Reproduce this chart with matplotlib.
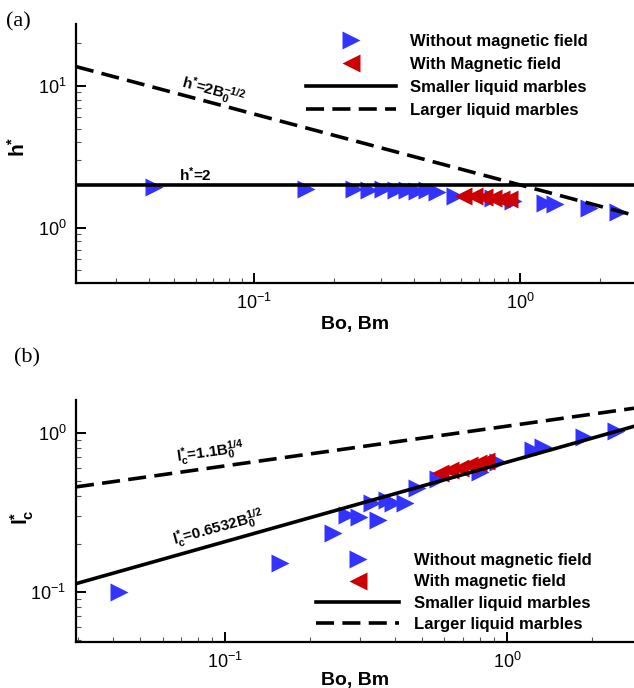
import numpy as np
import matplotlib
matplotlib.use('Agg')
import matplotlib.pyplot as plt
from matplotlib.lines import Line2D
from matplotlib.ticker import NullFormatter, LogLocator

plt.rcParams['font.family'] = ['Liberation Sans', 'DejaVu Sans']
plt.rcParams['mathtext.fontset'] = 'custom'
plt.rcParams['mathtext.rm'] = 'Liberation Sans:bold'
plt.rcParams['mathtext.it'] = 'Liberation Sans:bold'
plt.rcParams['mathtext.bf'] = 'Liberation Sans:bold'

# ---------------- data (a) ----------------
bo_a_without = [0.042, 0.156, 0.237, 0.27, 0.305, 0.34, 0.376, 0.41, 0.447, 0.488,
                0.567, 0.79, 0.94, 1.24, 1.35, 1.81, 2.33]
h_a_without = [1.95, 1.87, 1.88, 1.85, 1.86, 1.83, 1.84, 1.82, 1.83, 1.79,
               1.67, 1.61, 1.54, 1.49, 1.46, 1.37, 1.29]
bm_a_with = [0.61, 0.67, 0.73, 0.79, 0.85, 0.91]
h_a_with = [1.68, 1.66, 1.64, 1.62, 1.60, 1.58]

# ---------------- data (b) ----------------
bo_b_without = [0.042, 0.156, 0.242, 0.270, 0.299, 0.331, 0.349, 0.375, 0.394, 0.435,
                0.480, 0.569, 0.802, 0.929, 1.24, 1.34, 1.87, 2.43]
lc_b_without = [0.100, 0.152, 0.235, 0.304, 0.296, 0.364, 0.283, 0.377, 0.364, 0.361,
                0.449, 0.512, 0.566, 0.654, 0.778, 0.817, 0.936, 1.03]
bm_b_with = [0.58, 0.63, 0.68, 0.73, 0.79, 0.84]
lc_b_with = [0.556, 0.58, 0.60, 0.625, 0.645, 0.667]

# model curve coefficients
h_small = 2.0
h_large_coef, h_large_exp = 2.0, -0.5
l_small_coef, l_small_exp = 0.6532, 0.5
l_large_coef, l_large_exp = 1.1, 0.25

BLUE = '#3333ff'
RED = '#cc0000'

W, H = 634, 688
fig = plt.figure(figsize=(W / 100, H / 100), dpi=100)


def px_axes(left, top, right, bottom):
    return fig.add_axes([left / W, 1 - bottom / H, (right - left) / W, (bottom - top) / H])


def style(ax):
    ax.set_xscale('log')
    ax.set_yscale('log')
    for s in ('top', 'right'):
        ax.spines[s].set_visible(False)
    for s in ('left', 'bottom'):
        ax.spines[s].set_linewidth(1.6)
    ax.tick_params(which='major', direction='in', length=7.5, width=1.4,
                   labelsize=13, pad=7, top=False, right=False)
    ax.tick_params(which='minor', direction='in', length=3.5, width=0.8,
                   color='#555555', top=False, right=False)
    ax.xaxis.set_minor_formatter(NullFormatter())
    ax.yaxis.set_minor_formatter(NullFormatter())
    ax.xaxis.set_minor_locator(LogLocator(base=10, subs=np.arange(2, 10)))
    ax.yaxis.set_minor_locator(LogLocator(base=10, subs=np.arange(2, 10)))


MS = 13
LW = 2.6
DASH = (5, 2.3)

# ---------------- panel (a) ----------------
ax1 = px_axes(76, 24, 634, 283.3)
style(ax1)
xl1 = (0.0213, 2.68)
ax1.set_xlim(*xl1)
ax1.set_ylim(0.404, 27.4)
ax1.plot(bo_a_without, h_a_without, linestyle='none', marker='>', ms=MS,
         color=BLUE, mec='none', zorder=2)
ax1.plot(bm_a_with, h_a_with, linestyle='none', marker='<', ms=MS,
         color=RED, mec='none', zorder=3)
xx = np.logspace(np.log10(xl1[0]), np.log10(xl1[1]), 200)
ax1.plot(xx, np.full_like(xx, h_small), color='black', lw=LW, zorder=4)
ax1.plot(xx, h_large_coef * xx ** h_large_exp, color='black', lw=LW,
         dashes=DASH, zorder=4)
ax1.set_xlabel('Bo, Bm', fontsize=14, fontweight='bold', labelpad=2)
ax1.set_ylabel('h$^{*}$', fontsize=15, fontweight='bold')
ax1.yaxis.set_label_coords(-0.084, 0.525)
ax1.text(0.0597, 2.35, 'h$^{*}$=2', fontsize=11, fontweight='bold',
         ha='center', va='center')
ax1.text(0.0698, 9.2, 'h$^{*}$=2B$_{0}^{-1/2}$', fontsize=11, fontweight='bold',
         ha='center', va='center', rotation=-15)
h1 = [Line2D([], [], ls='none', marker='>', ms=MS, color=BLUE, mec='none'),
      Line2D([], [], ls='none', marker='<', ms=MS, color=RED, mec='none'),
      Line2D([], [], color='black', lw=LW),
      Line2D([], [], color='black', lw=LW, dashes=DASH)]
ax1.legend(h1, ['Without magnetic field', 'With Magnetic field',
                'Smaller liquid marbles', 'Larger liquid marbles'],
           loc='upper left', bbox_to_anchor=(306 / W, 1 - 34 / H),
           bbox_transform=fig.transFigure, frameon=False,
           prop={'weight': 'bold', 'size': 12}, handlelength=5.4,
           handletextpad=0.85, labelspacing=0.48, borderpad=0, borderaxespad=0,
           numpoints=1)

# ---------------- panel (b) ----------------
ax2 = px_axes(76, 400, 634, 641.7)
style(ax2)
xl2 = (0.0296, 2.82)
ax2.set_xlim(*xl2)
ax2.set_ylim(0.0485, 1.606)
ax2.plot(bo_b_without, lc_b_without, linestyle='none', marker='>', ms=MS,
         color=BLUE, mec='none', zorder=2)
ax2.plot(bm_b_with, lc_b_with, linestyle='none', marker='<', ms=MS,
         color=RED, mec='none', zorder=3)
xx = np.logspace(np.log10(xl2[0]), np.log10(xl2[1]), 200)
ax2.plot(xx, l_small_coef * xx ** l_small_exp, color='black', lw=LW, zorder=4)
ax2.plot(xx, l_large_coef * xx ** l_large_exp, color='black', lw=LW,
         dashes=DASH, zorder=4)
ax2.set_xlabel('Bo, Bm', fontsize=14, fontweight='bold', labelpad=0)
ax2.set_ylabel('l$^{*}_{c}$', fontsize=15, fontweight='bold')
ax2.yaxis.set_label_coords(-0.072, 0.515)
ax2.text(0.0885, 0.756, 'l$^{*}_{c}$=1.1B$_{0}^{1/4}$', fontsize=11,
         fontweight='bold', ha='center', va='center', rotation=8)
ax2.text(0.0945, 0.252, 'l$^{*}_{c}$=0.6532B$_{0}^{1/2}$', fontsize=11,
         fontweight='bold', ha='center', va='center', rotation=15.5)
h2 = [Line2D([], [], ls='none', marker='>', ms=MS, color=BLUE, mec='none'),
      Line2D([], [], ls='none', marker='<', ms=MS, color=RED, mec='none'),
      Line2D([], [], color='black', lw=LW),
      Line2D([], [], color='black', lw=LW, dashes=DASH)]
ax2.legend(h2, ['Without magnetic field', 'With magnetic field',
                'Smaller liquid marbles', 'Larger liquid marbles'],
           loc='upper left', bbox_to_anchor=(316 / W, 1 - 553 / H),
           bbox_transform=fig.transFigure, frameon=False,
           prop={'weight': 'bold', 'size': 12}, handlelength=5.0,
           handletextpad=0.9, labelspacing=0.38, borderpad=0, borderaxespad=0,
           numpoints=1)

fig.text(6 / W, 1 - 22 / H, '(a)', family='Liberation Serif', fontsize=16,
         va='center', ha='left')
fig.text(14 / W, 1 - 358 / H, '(b)', family='Liberation Serif', fontsize=16,
         va='center', ha='left')

fig.savefig('out.png', dpi=100)
